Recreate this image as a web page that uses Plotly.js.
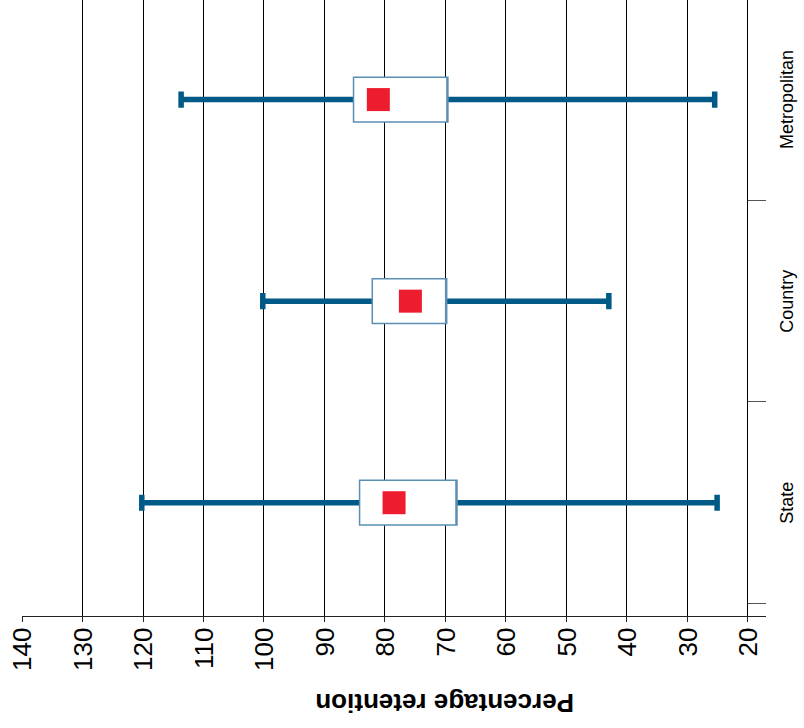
<!DOCTYPE html>
<html>
<head>
<meta charset="utf-8">
<script src="https://cdn.plot.ly/plotly-3.0.1.min.js"></script>
<style>
  html, body { margin: 0; padding: 0; background: #fff; overflow: hidden; width: 804px; height: 728px; }
  #wrap { position: absolute; left: 0; top: 0; width: 728px; height: 804px;
          transform-origin: 0 0; transform: translateY(728px) rotate(-90deg); }
  #chart { width: 728px; height: 804px; }
</style>
</head>
<body>
<div id="wrap"><div id="chart"></div></div>
<script>
// Data
var categories   = ['State', 'Country', 'Metropolitan'];
var whiskerLow   = [25.1, 43.0, 25.5];
var whiskerHigh  = [120.2, 100.2, 113.7];
var boxLow       = [68.1, 69.8, 69.6];
var boxHigh      = [84.2, 82.1, 85.2];
var meanValues   = [78.5, 75.8, 81.1];
var valueTicks   = [20, 30, 40, 50, 60, 70, 80, 90, 100, 110, 120, 130, 140];
var axisTitle    = 'Percentage retention';

var whiskerColor = '#005a87';
var boxLine      = '#5b8fb2';
var meanColor    = '#ed1c2e';

// Whiskers (thick, with caps); their collapsed body sits hidden inside the white box
var whiskers = {
  type: 'box', x: categories,
  q1: meanValues, median: meanValues, q3: meanValues,
  lowerfence: whiskerLow, upperfence: whiskerHigh,
  boxpoints: false, width: 0.08, whiskerwidth: 1,
  line: { color: whiskerColor, width: 5.5 },
  fillcolor: whiskerColor, hoverinfo: 'skip', showlegend: false
};

// White box from boxLow to boxHigh
var boxes = {
  type: 'box', x: categories,
  q1: boxLow, median: boxLow, q3: boxHigh,
  lowerfence: boxLow, upperfence: boxHigh,
  boxpoints: false, width: 0.222, whiskerwidth: 0,
  line: { color: boxLine, width: 1.5 },
  fillcolor: '#ffffff', hoverinfo: 'skip', showlegend: false
};

// Red square markers
var means = {
  type: 'scatter', mode: 'markers', x: categories, y: meanValues,
  marker: { symbol: 'square', size: 23, color: meanColor, line: { width: 0 } },
  hoverinfo: 'skip', showlegend: false
};

var layout = {
  width: 728, height: 804,
  margin: { l: 112, r: 0, t: 22, b: 38 },
  paper_bgcolor: '#ffffff', plot_bgcolor: '#ffffff',
  font: { family: 'Liberation Sans, Arial, sans-serif', color: '#000' },
  boxmode: 'overlay',
  showlegend: false,
  xaxis: {
    type: 'category',
    categoryorder: 'array', categoryarray: categories,
    range: [-0.562, 2.494],
    showgrid: false, zeroline: false, showline: false,
    ticks: 'inside', ticklen: 18, tickwidth: 1, tickcolor: '#555',
    tickson: 'boundaries',
    tickfont: { size: 18, color: '#000' },
    ticklabelstandoff: 8
  },
  yaxis: {
    range: [17.02, 140],
    tickvals: valueTicks,
    showgrid: true, gridcolor: '#000', gridwidth: 1,
    zeroline: false,
    showline: true, linecolor: '#222', linewidth: 1.3,
    ticks: 'outside', ticklen: 5, tickcolor: '#222',
    tickfont: { size: 26, color: '#000' }
  },
  annotations: [{
    text: '<b>' + axisTitle + '</b>',
    xref: 'paper', yref: 'paper',
    x: -0.1412, y: 0.4315,
    xanchor: 'center', yanchor: 'middle',
    textangle: -90, showarrow: false,
    font: { size: 26, color: '#000', family: 'Liberation Sans, Arial, sans-serif' }
  }]
};

Plotly.newPlot('chart', [whiskers, boxes, means], layout, { staticPlot: true, displayModeBar: false });
</script>
</body>
</html>
